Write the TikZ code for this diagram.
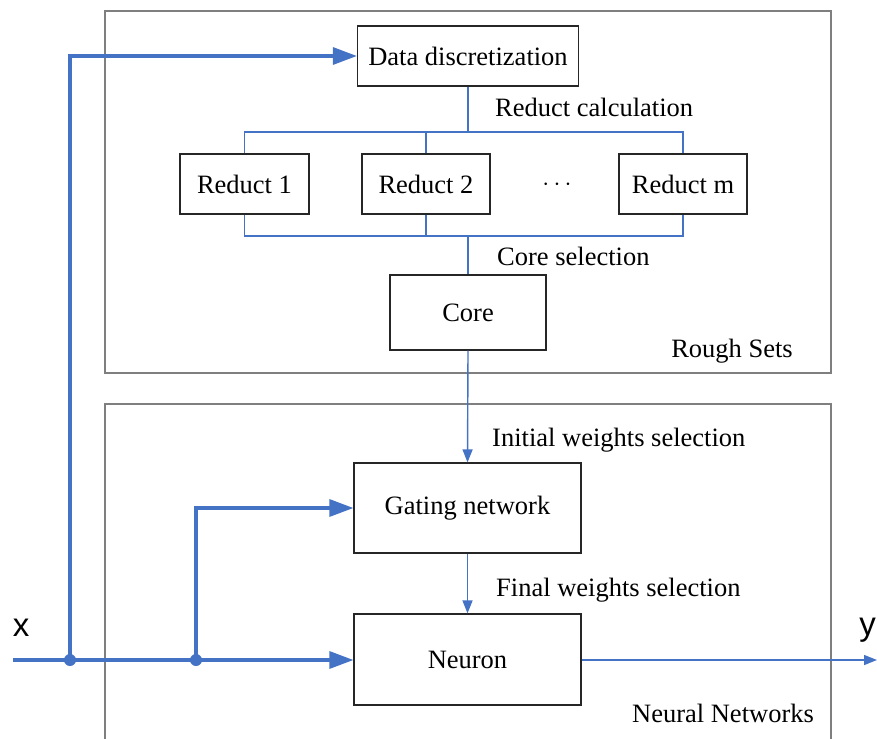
\documentclass[tikz,border=0pt]{standalone}
\usepackage{fontspec}
\setmainfont{Liberation Serif}
\newfontfamily\labelsans{Liberation Sans}
\usetikzlibrary{arrows.meta}
\definecolor{flowblue}{HTML}{4472C4}
\definecolor{framegray}{HTML}{7F7F7F}

\begin{document}
\begin{tikzpicture}[x=1pt,y=-1pt,
  box/.style={draw=black!85,line width=1.2pt,rectangle,inner sep=0pt,
    font=\fontsize{26.5}{30}\selectfont},
  frame/.style={draw=framegray,line width=1.4pt},
  thickflow/.style={draw=flowblue,line width=3.2pt,
    -{Triangle[length=24pt,width=17pt]}},
  bus/.style={draw=flowblue,line width=1.4pt},
  thinflow/.style={draw=flowblue,line width=1.4pt,
    -{Triangle[length=13pt,width=10pt]}},
  lbl/.style={font=\fontsize{26.5}{30}\selectfont,inner sep=0pt,anchor=base west},
  grouplbl/.style={font=\fontsize{26.5}{30}\selectfont,inner sep=0pt,anchor=base},
  iolbl/.style={font=\labelsans\fontsize{33}{36}\selectfont,inner sep=0pt},
  ]
\useasboundingbox (0,0) rectangle (877,738);

% Group frames
\draw[frame] (105,11) rectangle (831,373);
\draw[frame] (105,404) rectangle (831,760);

% Rough-set stage
\node[box,minimum width=221pt,minimum height=60pt] (dd) at (468,56) {Data discretization};
\node[box,minimum width=129pt,minimum height=60pt] (r1) at (244.5,184) {Reduct 1};
\node[box,minimum width=128pt,minimum height=60pt] (r2) at (426,184) {Reduct 2};
\node[box,minimum width=128pt,minimum height=60pt] (rm) at (683,184) {Reduct m};
\node[font=\fontsize{27}{30}\selectfont,inner sep=0pt] (dots) at (557,185) {$\cdots$};
\node[box,minimum width=156pt,minimum height=75pt] (core) at (468,312.5) {Core};

% Neural-network stage
\node[box,minimum width=227pt,minimum height=90pt] (gate) at (467.5,508) {Gating network};
\node[box,minimum width=227pt,minimum height=91pt] (neuron) at (467.5,659.5) {Neuron};

% Buses between discretization, reducts and core
\coordinate (bt) at (468,132);
\coordinate (bb) at (468,236);
\draw[bus] (dd.south) -- (bt);
\draw[bus] (r1.north) -- (r1.north |- bt) -- (rm.north |- bt) -- (rm.north);
\draw[bus] (r2.north) -- (r2.north |- bt);
\draw[bus] (r1.south) -- (r1.south |- bb) -- (rm.south |- bb) -- (rm.south);
\draw[bus] (r2.south) -- (r2.south |- bb);
\draw[bus] (bb) -- (core.north);

% Stage labels
\node[lbl] (lrc) at (495,117) {Reduct calculation};
\node[lbl] (lcs) at (497,265) {Core selection};
\node[lbl] (liw) at (492,446) {Initial weights selection};
\node[lbl] (lfw) at (496,596) {Final weights selection};
\node[grouplbl] (lrs) at (732,357) {Rough Sets};
\node[grouplbl] (lnn) at (723,722) {Neural Networks};

% Weight flow
\draw[thinflow] (core.south) -- (gate.north);
\draw[thinflow] (gate.south) -- (neuron.north);

% Input signal and its branches
\coordinate (xin) at (13,660);
\coordinate (j1) at (70,660);
\coordinate (j2) at (196,660);
\draw[thickflow] (xin) -- (neuron.west |- xin);
\draw[thickflow] (j1) |- (dd.west);
\draw[thickflow] (j2) |- (gate.west);
\fill[flowblue] (j1) circle (6pt);
\fill[flowblue] (j2) circle (6pt);

% Output
\coordinate (yout) at (877,660);
\draw[thinflow] (neuron.east |- yout) -- (yout);

\node[iolbl] (xl) at (21,628) {x};
\node[iolbl,anchor=east] (yl) at (876,630) {y};
\end{tikzpicture}
\end{document}
